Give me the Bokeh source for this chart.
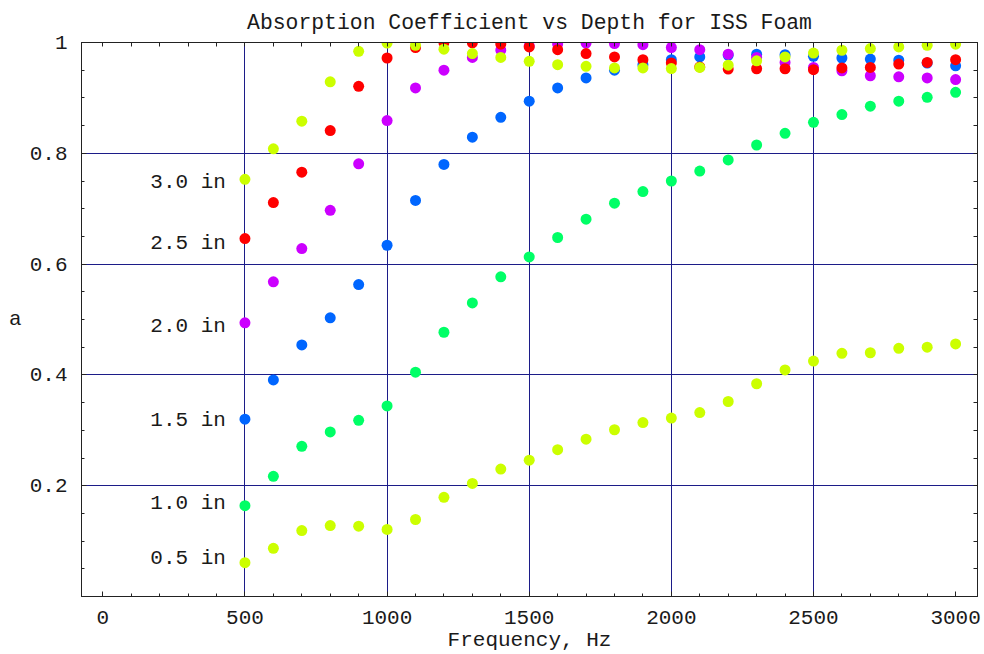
from bokeh.plotting import figure
from bokeh.models import Range1d, FixedTicker, LinearAxis, ColumnDataSource
from bokeh.core.properties import value
from bokeh.embed import file_html
from bokeh.resources import INLINE

# ---------------- data ----------------
freq = [500, 600, 700, 800, 900, 1000, 1100, 1200, 1300, 1400, 1500, 1600, 1700,
        1800, 1900, 2000, 2100, 2200, 2300, 2400, 2500, 2600, 2700, 2800, 2900, 3000]

a_05 = [0.061, 0.087, 0.119, 0.128, 0.127, 0.121, 0.139, 0.179, 0.204, 0.230, 0.246, 0.265, 0.284,
        0.301, 0.314, 0.322, 0.332, 0.352, 0.384, 0.409, 0.425, 0.439, 0.440, 0.448, 0.450, 0.456]
a_10 = [0.164, 0.217, 0.271, 0.297, 0.318, 0.344, 0.405, 0.477, 0.530, 0.577, 0.613, 0.648, 0.681,
        0.710, 0.731, 0.750, 0.768, 0.788, 0.815, 0.836, 0.856, 0.870, 0.885, 0.894, 0.901, 0.910]
a_15 = [0.320, 0.391, 0.454, 0.503, 0.563, 0.634, 0.715, 0.780, 0.829, 0.865, 0.894, 0.918, 0.936,
        0.950, 0.960, 0.969, 0.974, 0.977, 0.979, 0.978, 0.975, 0.972, 0.970, 0.968, 0.963, 0.958]
a_20 = [0.494, 0.568, 0.628, 0.697, 0.781, 0.859, 0.918, 0.950, 0.973, 0.986, 0.994, 0.997, 0.999,
        0.998, 0.996, 0.991, 0.987, 0.979, 0.973, 0.964, 0.955, 0.949, 0.940, 0.938, 0.936, 0.933]
a_25 = [0.646, 0.711, 0.766, 0.841, 0.921, 0.972, 0.991, 1.000, 0.9995, 0.997, 0.992, 0.987, 0.980,
        0.974, 0.969, 0.963, 0.956, 0.952, 0.9526, 0.9526, 0.951, 0.954, 0.955, 0.961, 0.964, 0.969]
a_30 = [0.753, 0.808, 0.858, 0.929, 0.984, 0.999, 0.995, 0.988, 0.980, 0.973, 0.966, 0.960, 0.957,
        0.954, 0.954, 0.953, 0.955, 0.959, 0.967, 0.974, 0.981, 0.986, 0.989, 0.992, 0.995, 0.997]

series = [a_05, a_10, a_15, a_20, a_25, a_30]
series_colors = ["#ccff00", "#00ff66", "#0066ff", "#cc00ff", "#ff0000", "#ccff00"]

depth_labels = ["3.0 in", "2.5 in", "2.0 in", "1.5 in", "1.0 in", "0.5 in"]
depth_label_x = [300, 300, 300, 300, 300, 300]
depth_label_y = [0.748, 0.638, 0.488, 0.318, 0.168, 0.068]

title_text = "Absorption Coefficient vs Depth for ISS Foam"
x_label_text = "Frequency, Hz"
y_label_text = "a"

x_major = [0, 500, 1000, 1500, 2000, 2500, 3000]
x_minor = list(range(0, 3100, 100))
y_major = [0.2, 0.4, 0.6, 0.8, 1.0]
y_minor = [round(0.05 * i, 2) for i in range(0, 21)]
x_grid = [500, 1000, 1500, 2000, 2500]
y_grid = [0.2, 0.4, 0.6, 0.8]

FONT = "Liberation Mono"
FS = "21px"
TXT = "#1a1a1a"
GRID = "#1c1c88"
FRAME = "#222222"

p = figure(width=984, height=654, output_backend="svg", toolbar_location=None,
           x_range=Range1d(-75, 3077), y_range=Range1d(0.0, 1.0),
           min_border_left=81, min_border_right=7, min_border_top=42, min_border_bottom=58,
           title=title_text)
p.background_fill_color = "white"
p.border_fill_color = "white"
p.outline_line_color = FRAME

p.title.align = "center"
p.title.text_font = FONT
p.title.text_font_size = "21.4px"
p.title.text_font_style = "normal"
p.title.text_color = TXT
p.title.standoff = 16


def style_axis(ax, tin, tmin):
    ax.axis_line_color = FRAME
    ax.major_tick_line_color = FRAME
    ax.minor_tick_line_color = FRAME
    ax.major_tick_in = tin
    ax.major_tick_out = 0
    ax.minor_tick_in = tmin
    ax.minor_tick_out = 0
    ax.major_label_text_font = FONT
    ax.major_label_text_font_size = FS
    ax.major_label_text_color = TXT
    ax.axis_label_text_font = FONT
    ax.axis_label_text_font_size = FS
    ax.axis_label_text_font_style = "normal"
    ax.axis_label_text_color = TXT


xa = p.xaxis[0]
xa.ticker = FixedTicker(ticks=x_major, minor_ticks=x_minor)
style_axis(xa, 5, 3)
xa.major_label_standoff = 14
xa.axis_label = x_label_text
xa.axis_label_standoff = 2

ya = p.yaxis[0]
ya.ticker = FixedTicker(ticks=y_major, minor_ticks=y_minor)
style_axis(ya, 5, 3)
ya.major_label_overrides = {1: "1"}
ya.major_label_standoff = 14
ya.axis_label = y_label_text
ya.axis_label_orientation = "horizontal"
ya.axis_label_standoff = 5

ra = LinearAxis(ticker=FixedTicker(ticks=[], minor_ticks=y_minor))
style_axis(ra, 4, 4)
ra.major_label_standoff = 0
p.add_layout(ra, "right")
ta = LinearAxis(ticker=FixedTicker(ticks=[], minor_ticks=x_minor))
style_axis(ta, 4, 4)
ta.major_label_standoff = 0
p.add_layout(ta, "above")

p.xgrid.ticker = FixedTicker(ticks=x_grid)
p.ygrid.ticker = FixedTicker(ticks=y_grid)
for g in (p.xgrid[0], p.ygrid[0]):
    g.grid_line_color = GRID
    g.grid_line_width = 1

for ys, c in zip(series, series_colors):
    p.scatter(freq, ys, size=11, fill_color=c, line_color=None)

src = ColumnDataSource(dict(x=depth_label_x, y=depth_label_y, t=depth_labels))
p.text(x="x", y="y", text="t", source=src, text_font=value(FONT), text_font_size=value(FS),
       text_color=TXT, text_align="center", text_baseline="middle")

open("out.html", "w").write(file_html(p, INLINE))
